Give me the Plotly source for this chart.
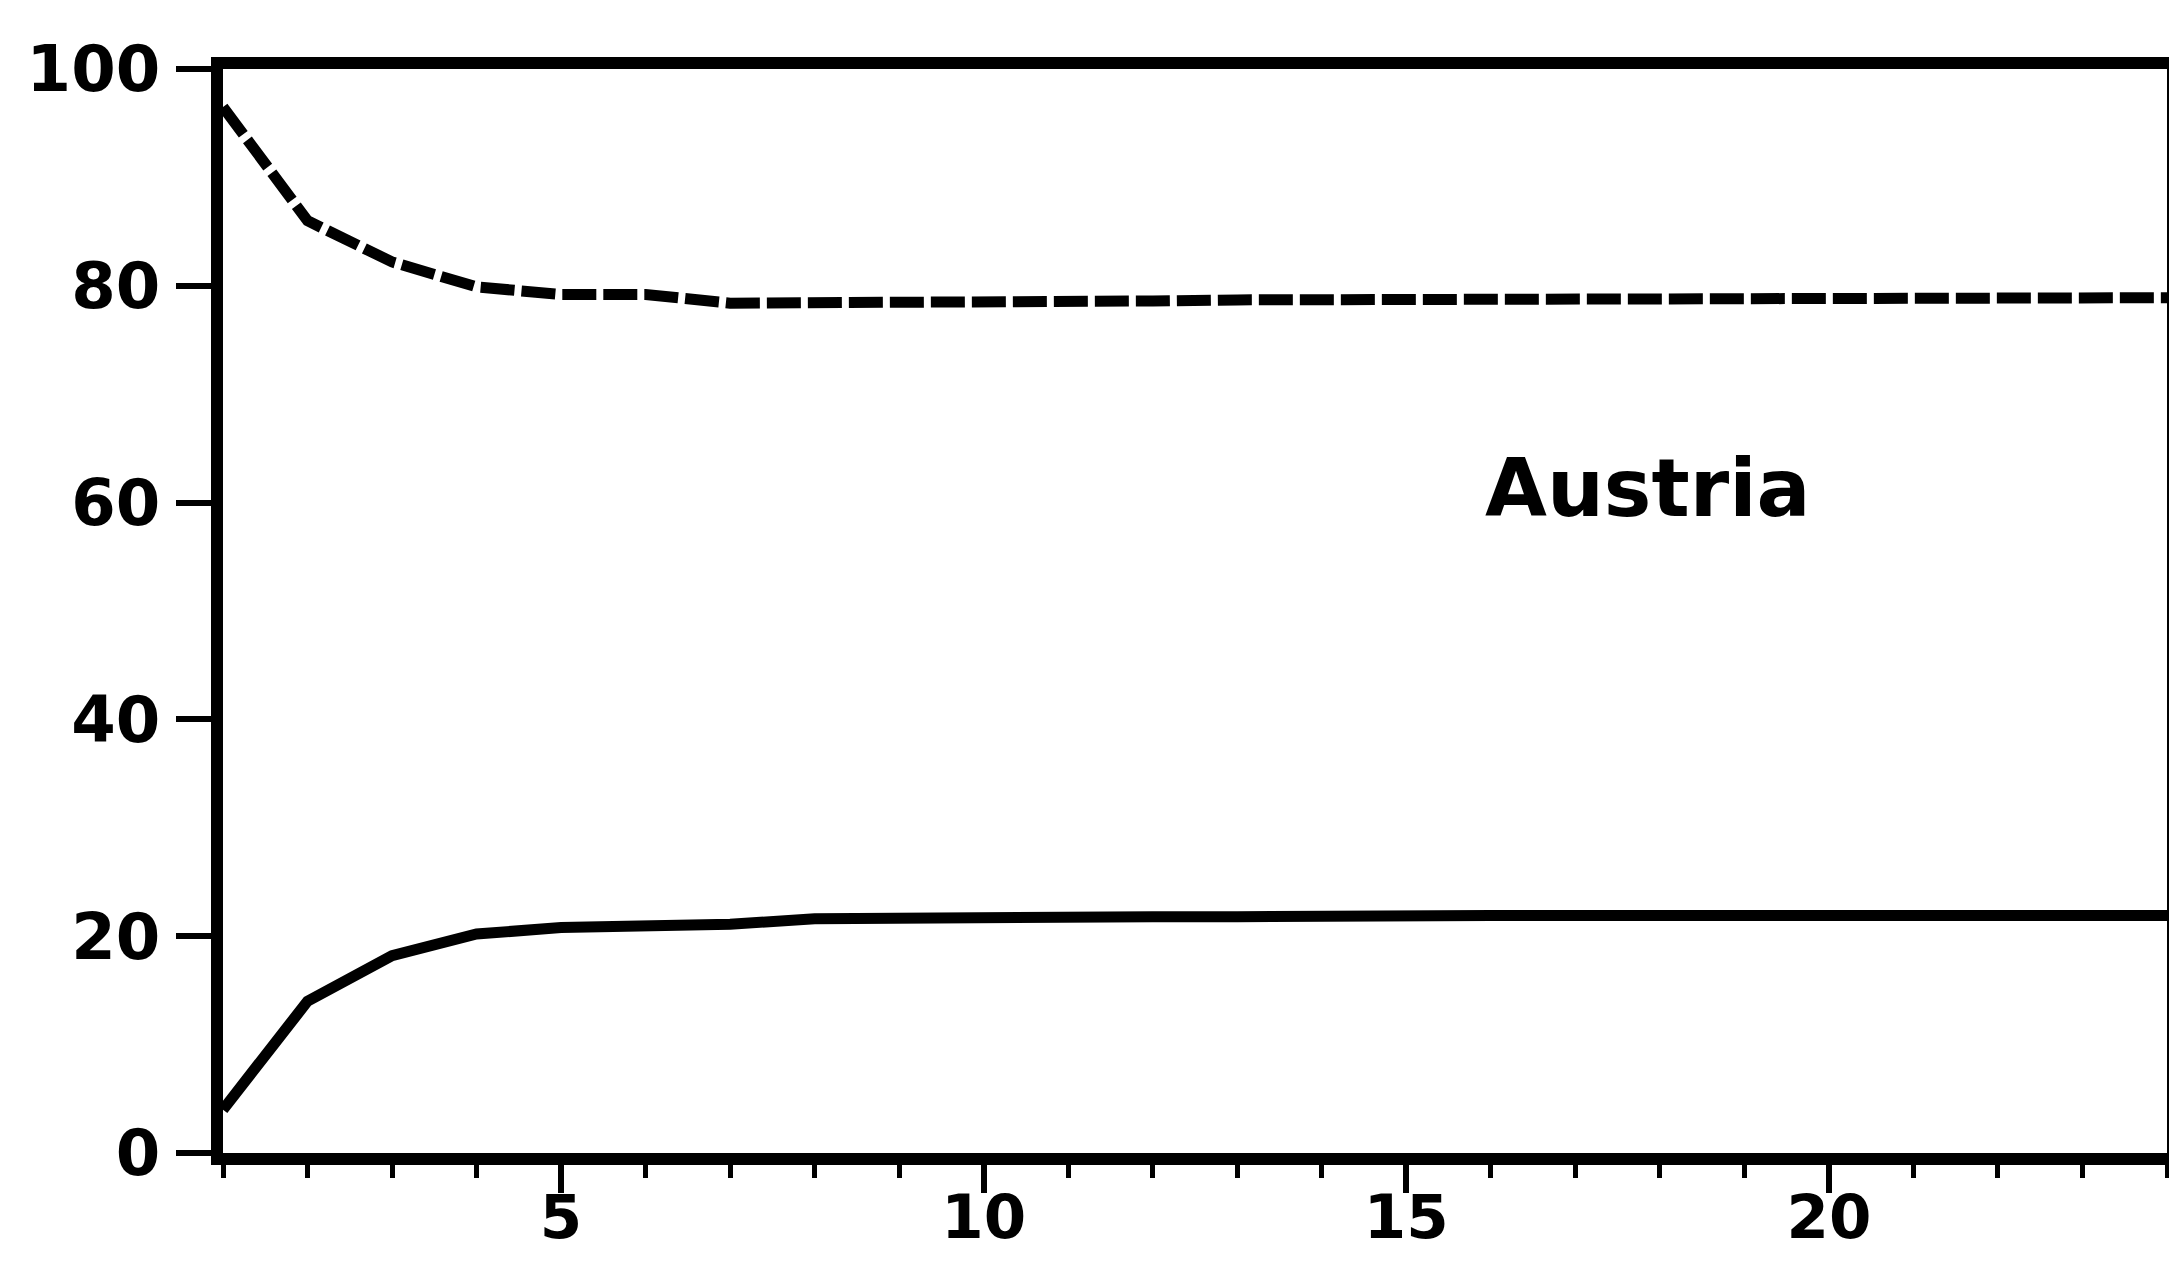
import plotly.graph_objects as go

# Forecast horizon (periods)
periods = list(range(1, 25))

# Share of forecast error variance (%) - two components
own_shock = [96.5, 86.0, 82.2, 79.9, 79.2, 79.2, 78.4, 78.4, 78.5, 78.5, 78.6, 78.6,
             78.7, 78.7, 78.8, 78.8, 78.8, 78.9, 78.9, 78.9, 78.9, 78.9, 78.9, 78.9]
foreign_shock = [4.0, 14.0, 18.2, 20.2, 20.8, 21.0, 21.1, 21.6, 21.7, 21.7, 21.8, 21.8,
                 21.8, 21.9, 21.9, 21.9, 21.9, 21.9, 21.9, 21.9, 21.9, 21.9, 21.9, 21.9]

x_ticks = [5, 10, 15, 20]
y_ticks = [0, 20, 40, 60, 80, 100]
label = "Austria"

FONT = "DejaVu Sans"
INK = "black"

fig = go.Figure()
fig.add_trace(go.Scatter(
    x=periods, y=own_shock, mode="lines",
    line=dict(color=INK, width=11, dash="34px,7px"),
    showlegend=False,
))
fig.add_trace(go.Scatter(
    x=periods, y=foreign_shock, mode="lines",
    line=dict(color=INK, width=11),
    showlegend=False,
))

fig.add_annotation(
    x=17.86, y=61.3, xref="x", yref="y", text=label, showarrow=False,
    xanchor="center", yanchor="middle",
    font=dict(family=FONT, size=80, color=INK, weight="bold"),
)

axis_common = dict(
    showline=True, linecolor=INK, linewidth=12, mirror=True,
    showgrid=False, zeroline=False, ticks="outside", tickcolor=INK,
    automargin=False,
)

fig.update_xaxes(
    range=[1, 24], tickvals=x_ticks, ticklen=28, tickwidth=6,
    minor=dict(ticks="outside", dtick=1, tick0=1, ticklen=13, tickwidth=5, tickcolor=INK),
    tickfont=dict(family=FONT, size=61, color=INK, weight="bold"),
    ticklabelstandoff=-28,
    **axis_common,
)
fig.update_yaxes(
    range=[0, 100], tickvals=y_ticks, ticklen=35, tickwidth=6,
    tickfont=dict(family=FONT, size=64, color=INK, weight="bold"),
    ticklabelstandoff=3,
    **axis_common,
)

fig.update_layout(
    width=2169, height=1271,
    margin=dict(l=223, r=2, t=69, b=118),
    paper_bgcolor="white", plot_bgcolor="white",
)

fig.write_html("out.html")
